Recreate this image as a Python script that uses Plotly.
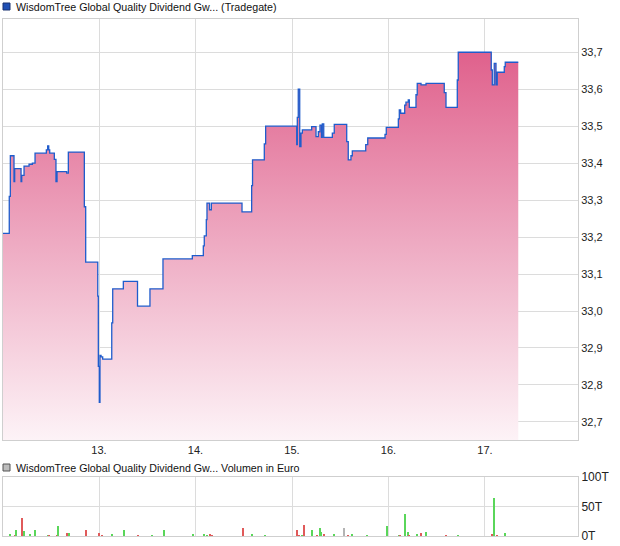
import plotly.graph_objects as go

# ---------------- data ----------------
# price series (time in day-of-month units, price in EUR), step-wise
price_t = [12.005, 12.070, 12.081, 12.119, 12.126, 12.192, 12.199, 12.223, 12.275, 12.309,
           12.337, 12.454, 12.468, 12.479, 12.489, 12.537, 12.554, 12.565, 12.665, 12.682,
           12.848, 12.862, 12.987, 12.993, 13.003, 13.010, 13.021, 13.038, 13.132, 13.142,
           13.252, 13.399, 13.528, 13.663, 13.967, 14.081, 14.091, 14.112, 14.119, 14.145,
           14.164, 14.482, 14.582, 14.591, 14.713, 14.727, 15.049, 15.055, 15.065, 15.080,
           15.093, 15.107, 15.204, 15.249, 15.273, 15.290, 15.306, 15.314, 15.329, 15.418,
           15.438, 15.567, 15.583, 15.611, 15.625, 15.764, 15.785, 15.964, 15.977, 16.102,
           16.112, 16.126, 16.168, 16.181, 16.205, 16.216, 16.285, 16.298, 16.337, 16.389,
           16.578, 16.596, 16.713, 16.723, 17.065, 17.076, 17.096, 17.114, 17.127, 17.200,
           17.210, 17.345]
price_v = [33.21, 33.31, 33.42, 33.35, 33.385, 33.35, 33.367, 33.392, 33.397, 33.40,
           33.427, 33.436, 33.447, 33.436, 33.427, 33.41, 33.35, 33.377, 33.373, 33.43,
           33.282, 33.132, 33.04, 32.85, 32.753, 32.88, 32.876, 32.87, 32.968, 33.06,
           33.08, 33.013, 33.06, 33.141, 33.15, 33.176, 33.203, 33.247, 33.292, 33.274,
           33.292, 33.268, 33.339, 33.409, 33.452, 33.50, 33.45, 33.524, 33.60, 33.445,
           33.481, 33.49, 33.499, 33.472, 33.485, 33.503, 33.47, 33.506, 33.47, 33.481,
           33.505, 33.458, 33.409, 33.42, 33.433, 33.45, 33.468, 33.478, 33.497, 33.52,
           33.544, 33.535, 33.557, 33.565, 33.571, 33.551, 33.585, 33.616, 33.612, 33.616,
           33.591, 33.551, 33.625, 33.70, 33.652, 33.612, 33.67, 33.612, 33.646, 33.661,
           33.673, 33.673]

# volume series (thousand EUR) with direction of trade
vol_t = [12.081, 12.133, 12.143, 12.205, 12.226, 12.288, 12.340, 12.468, 12.485, 12.562,
         12.578, 12.671, 12.689, 12.862, 13.003, 13.034, 13.138, 13.262, 13.407, 13.552,
         13.677, 13.977, 14.088, 14.122, 14.153, 14.171, 14.495, 14.589, 14.723, 15.055,
         15.073, 15.104, 15.127, 15.210, 15.262, 15.293, 15.304, 15.335, 15.438, 15.542,
         15.583, 15.625, 15.780, 15.988, 16.112, 16.122, 16.174, 16.205, 16.216, 16.298,
         16.337, 16.389, 16.593, 16.723, 17.076, 17.096, 17.121, 17.210]
vol_v = [2, 1, 10, 30, 8, 3.5, 10, 1, 1, 1,
         17, 5, 5, 10, 5, 1, 3.5, 10, 1, 1,
         10, 3.5, 2, 1, 3.5, 1, 13, 3.5, 1, 10,
         1, 1, 18, 10, 1, 13, 7, 2, 2, 13,
         1, 3.5, 1, 17, 1.5, 1, 37, 7, 1, 2,
         5, 7, 1, 1, 3.5, 65, 1, 5]
vol_dir = ["u", "d", "u", "d", "u", "u", "u", "u", "d", "d",
           "u", "d", "u", "d", "d", "d", "u", "u", "d", "u",
           "u", "u", "u", "u", "d", "d", "d", "u", "u", "d",
           "d", "u", "d", "u", "d", "u", "u", "d", "u", "n",
           "d", "u", "u", "u", "u", "d", "u", "u", "d", "u",
           "d", "u", "d", "u", "d", "u", "d", "u"]

day_ticks = [13, 14, 15, 16, 17]
day_labels = ["13.", "14.", "15.", "16.", "17."]
price_ticks = [32.7, 32.8, 32.9, 33.0, 33.1, 33.2, 33.3, 33.4, 33.5, 33.6, 33.7]
vol_ticks = [0, 50, 100]
vol_labels = ["0T", "50T", "100T"]

title_price = "WisdomTree Global Quality Dividend Gw... (Tradegate)"
title_vol = "WisdomTree Global Quality Dividend Gw... Volumen in Euro"

# ---------------- styling ----------------
FONT = "Liberation Sans, Arial, sans-serif"
GRID = "#dcdcdc"
FRAME = "#cfcfcf"
dir_color = {"u": "#5ad65a", "d": "#e05a5a", "n": "#b4b4b4"}

W, H = 620, 546
ML, MR, MT, MB = 3, 42, 19, 10
PW, PH = W - ML - MR, H - MT - MB


def px_x(px):
    return (px - ML) / PW


def px_y(py):
    return (H - MB - py) / PH


fig = go.Figure()

fig.add_trace(go.Scatter(
    x=price_t, y=price_v, mode="lines", line=dict(color="#1f5ccc", width=1.3, shape="hv"),
    fill="tozeroy",
    fillgradient=dict(type="vertical", start=32.65, stop=33.72,
                      colorscale=[[0, "#fdf3f7"], [0.5, "#eeaac2"], [1, "#df5e8a"]]),
    xaxis="x", yaxis="y", hoverinfo="skip", showlegend=False))

fig.add_trace(go.Bar(
    x=vol_t, y=vol_v, width=0.012,
    marker=dict(color=[dir_color[d] for d in vol_dir], line=dict(width=0)),
    xaxis="x2", yaxis="y2", hoverinfo="skip", showlegend=False))

xr = [12.005, 17.964]
axis_font = dict(family=FONT, size=11, color="#222")

fig.update_layout(
    width=W, height=H,
    margin=dict(l=ML, r=MR, t=MT, b=MB, autoexpand=False),
    paper_bgcolor="white", plot_bgcolor="white",
    separators=",.",
    bargap=0,
    xaxis=dict(domain=[0, 1], range=xr, tickvals=day_ticks, ticktext=day_labels,
               showgrid=True, gridcolor=GRID, gridwidth=1, zeroline=False,
               showline=True, linecolor=FRAME, mirror=True, ticks="",
               tickfont=axis_font, anchor="y"),
    yaxis=dict(domain=[px_y(440), 1], range=[32.651, 33.79], side="right",
               tickvals=price_ticks, tickformat=".1f",
               showgrid=True, gridcolor=GRID, gridwidth=1, zeroline=False,
               showline=True, linecolor=FRAME, mirror=True, ticks="",
               tickfont=axis_font, anchor="x"),
    xaxis2=dict(domain=[0, 1], range=xr, tickvals=day_ticks, showticklabels=False,
                showgrid=True, gridcolor=GRID, gridwidth=1, zeroline=False,
                showline=True, linecolor=FRAME, mirror=True, ticks="", anchor="y2"),
    yaxis2=dict(domain=[0, px_y(477)], range=[0, 100], side="right",
                tickvals=vol_ticks, ticktext=vol_labels,
                showgrid=True, gridcolor=GRID, gridwidth=1, zeroline=False,
                showline=True, linecolor=FRAME, mirror=True, ticks="",
                tickfont=dict(family="Liberation Sans Narrow, " + FONT, size=12, color="#222"),
                anchor="x2"),
    shapes=[
        dict(type="rect", xref="paper", yref="paper",
             x0=px_x(3), x1=px_x(10), y0=px_y(10), y1=px_y(3),
             fillcolor="#1f4fb4", line=dict(color="#1a3370", width=1)),
        dict(type="rect", xref="paper", yref="paper",
             x0=px_x(3), x1=px_x(10), y0=px_y(471), y1=px_y(464),
             fillcolor="#bdbdbd", line=dict(color="#555555", width=1)),
    ],
    annotations=[
        dict(text=title_price, xref="paper", yref="paper", x=px_x(14), y=px_y(7),
             xanchor="left", yanchor="middle", showarrow=False,
             font=dict(family=FONT, size=10.7, color="#111")),
        dict(text=title_vol, xref="paper", yref="paper", x=px_x(14), y=px_y(467.5),
             xanchor="left", yanchor="middle", showarrow=False,
             font=dict(family=FONT, size=10.7, color="#111")),
    ],
)

fig.write_html("out.html", config={"displayModeBar": False},
               post_script="document.body.style.margin='0px';document.body.style.padding='0px';")
